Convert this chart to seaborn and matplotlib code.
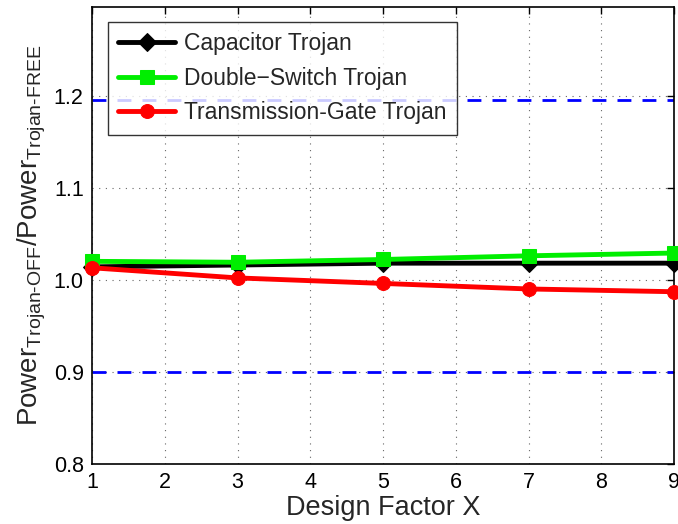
import matplotlib
matplotlib.use("Agg")
import matplotlib.pyplot as plt
import seaborn as sns
import pandas as pd

design_x = [1, 3, 5, 7, 9]
capacitor = [1.014, 1.016, 1.018, 1.018, 1.018]
double_switch = [1.020, 1.019, 1.022, 1.026, 1.029]
transmission_gate = [1.013, 1.002, 0.996, 0.990, 0.987]
upper_limit = 1.195
lower_limit = 0.900
x_ticks = [1, 2, 3, 4, 5, 6, 7, 8, 9]
y_ticks = [0.8, 0.9, 1.0, 1.1, 1.2]
y_tick_labels = ["0.8", "0.9", "1.0", "1.1", "1.2"]

sns.set_style("white")
plt.rcParams['font.family'] = ['Liberation Sans', 'DejaVu Sans']
plt.rcParams['mathtext.fontset'] = 'custom'
plt.rcParams['mathtext.rm'] = 'Liberation Sans'
plt.rcParams['mathtext.it'] = 'Liberation Sans'

fig = plt.figure(figsize=(6.78, 5.24), dpi=100)
ax = fig.add_axes([0.1357, 0.1145, 0.8584, 0.872])

series = [
    ("Capacitor Trojan", capacitor, "black", "D"),
    ("Double\u2212Switch Trojan", double_switch, "#00ee00", "s"),
    ("Transmission-Gate Trojan", transmission_gate, "red", "o"),
]
for name, vals, color, marker in series:
    df = pd.DataFrame({"x": design_x, "y": vals})
    sns.lineplot(data=df, x="x", y="y", ax=ax, color=color, marker=marker,
                 linewidth=3.5, markersize=10 if marker != "D" else 9,
                 markeredgecolor=color, label=name, clip_on=False, zorder=3)

ax.axhline(upper_limit, color="blue", linestyle=(0, (5, 4)), linewidth=2, zorder=2)
ax.axhline(lower_limit, color="blue", linestyle=(0, (5, 4)), linewidth=2, zorder=2)

ax.set_xlim(1, 9)
ax.set_ylim(0.8, 1.296)
ax.set_xticks(x_ticks)
ax.set_yticks(y_ticks)
ax.set_yticklabels(y_tick_labels)
ax.grid(True, linestyle=(0, (1, 5)), color="#666666", linewidth=0.8)
ax.tick_params(direction="in", top=True, right=True, labelsize=15.5, length=5,
               width=1, colors="black", pad=6)
for sp in ax.spines.values():
    sp.set_color("black")
    sp.set_linewidth(1.2)

ax.set_xlabel("Design Factor X", fontsize=19.5, labelpad=1)
ax.set_ylabel(r"Power$_{\mathrm{Trojan\text{-}OFF}}$/Power$_{\mathrm{Trojan\text{-}FREE}}$",
              fontsize=20, labelpad=4)

leg = ax.legend(loc="upper left", bbox_to_anchor=(0.027, 0.967), fontsize=16.5,
                frameon=True, fancybox=False, edgecolor="black", handlelength=2.5,
                borderpad=0.45, labelspacing=0.5, handletextpad=0.4,
                borderaxespad=0)
leg.get_frame().set_linewidth(1.0)

fig.savefig("out.png", dpi=100)
